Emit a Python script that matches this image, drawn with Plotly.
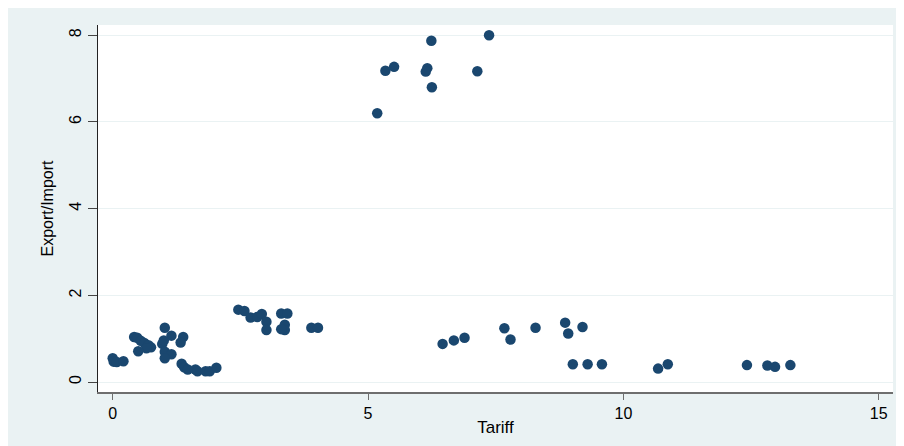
import plotly.graph_objects as go

# Data
tariff = [
    0.00, 0.02, 0.08, 0.21,
    0.42, 0.48, 0.55, 0.62, 0.70, 0.75, 0.66, 0.50,
    1.02, 1.15, 1.38, 0.97, 1.00, 1.33, 1.02, 1.15, 1.02,
    1.35, 1.40, 1.47, 1.62, 1.66, 1.82, 1.90, 2.03,
    2.46, 2.58, 2.70, 2.83, 2.92, 3.01, 3.01, 3.30, 3.42, 3.37, 3.37, 3.30, 3.89, 4.02,
    5.18, 5.34, 5.51, 6.24, 6.16, 6.13, 6.25, 7.14, 7.37,
    6.46, 6.68, 6.89, 7.67, 7.79, 8.28, 8.86, 8.92, 9.20, 9.01, 9.30, 9.58,
    10.68, 10.87, 12.42, 12.82, 12.97, 13.27,
]
export_import = [
    0.55, 0.47, 0.46, 0.48,
    1.04, 1.02, 0.95, 0.90, 0.85, 0.80, 0.78, 0.71,
    1.25, 1.07, 1.04, 0.88, 0.96, 0.91, 0.70, 0.64, 0.55,
    0.42, 0.34, 0.29, 0.29, 0.25, 0.25, 0.25, 0.33,
    1.67, 1.64, 1.49, 1.50, 1.57, 1.39, 1.20, 1.58, 1.58, 1.32, 1.20, 1.22, 1.25, 1.25,
    6.20, 7.18, 7.27, 7.87, 7.24, 7.16, 6.80, 7.17, 8.00,
    0.88, 0.96, 1.02, 1.24, 0.98, 1.25, 1.37, 1.12, 1.27, 0.41, 0.41, 0.41,
    0.31, 0.41, 0.39, 0.38, 0.35, 0.39,
]
x_ticks = [0, 5, 10, 15]
y_ticks = [0, 2, 4, 6, 8]

BG = "#eaf2f3"
NAVY = "#1a476f"
FONT = "Liberation Sans, Arial, sans-serif"

fig = go.Figure()
fig.add_trace(go.Scatter(
    x=tariff, y=export_import, mode="markers",
    marker=dict(color=NAVY, size=10.5, line=dict(width=0)),
    showlegend=False, hoverinfo="x+y",
))

fig.update_layout(
    width=896, height=438,
    margin=dict(l=90, r=11, t=17, b=54, autoexpand=False),
    paper_bgcolor=BG, plot_bgcolor="white",
    font=dict(family=FONT, color="black"),
    xaxis=dict(
        range=[-0.288, 15.28], tickvals=x_ticks, ticktext=[str(v) for v in x_ticks],
        showgrid=False, zeroline=False, showline=True, linecolor="#6e6e6e", linewidth=1.5,
        ticks="outside", ticklen=6, tickcolor="#6e6e6e", tickwidth=1,
        tickfont=dict(size=16, family=FONT), ticklabelstandoff=0,
        title=dict(text="Tariff", font=dict(size=17, family=FONT), standoff=0),
        automargin=False, fixedrange=True,
    ),
    yaxis=dict(
        range=[-0.23, 8.235], tickvals=y_ticks, ticktext=[str(v) for v in y_ticks],
        showgrid=True, gridcolor=BG, gridwidth=1.2, zeroline=False,
        showline=True, linecolor="#222222", linewidth=1,
        ticks="outside", ticklen=9, tickcolor="#444444", tickwidth=1,
        tickangle=-90, tickfont=dict(size=16, family=FONT), ticklabelstandoff=1,
        title=dict(text="Export/Import", font=dict(size=16, family=FONT), standoff=8),
        automargin=False, fixedrange=True,
    ),
)

fig.write_html("out.html")
